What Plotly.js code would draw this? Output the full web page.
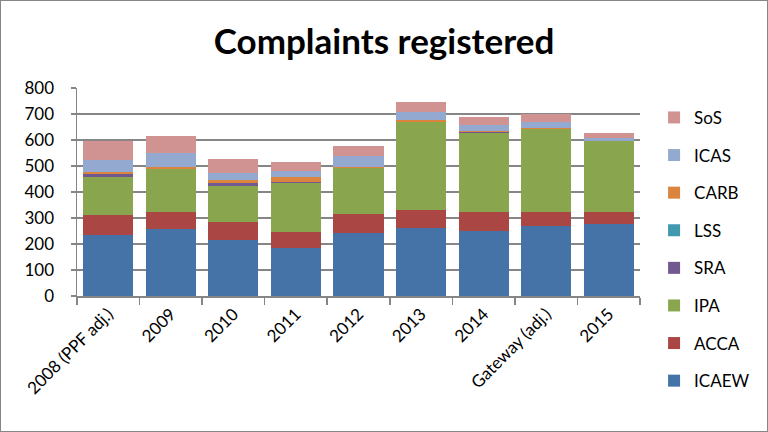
<!DOCTYPE html>
<html><head><meta charset="utf-8">
<script src="https://cdn.plot.ly/plotly-3.0.1.min.js"></script>
<style>html,body{margin:0;padding:0;background:#fff}#c{width:768px;height:432px;box-sizing:border-box;border:1px solid #868686}</style>
</head><body><div id="c"></div>
<script>
const categories = ["2008 (PPF adj.)","2009","2010","2011","2012","2013","2014","Gateway (adj.)","2015"];
const ICAEW = [235,258,215,186,242,263,250,270,278];
const ACCA  = [76,65,70,60,73,68,73,53,45];
const IPA   = [145,164,138,189,179,338,304,319,273];
const SRA   = [12,0,12,5,0,0,5,0,0];
const LSS   = [0,0,0,0,0,0,0,0,0];
const CARB  = [9,8,11,18,2,8,3,5,0];
const ICAS  = [46,54,26,21,42,31,21,22,12];
const SoS   = [73,66,55,36,39,38,32,31,19];
const yTicks = [0,100,200,300,400,500,600,700,800];

const series = [
  ["ICAEW", ICAEW, "#4572A7"],
  ["ACCA", ACCA, "#AA4643"],
  ["IPA", IPA, "#89A54E"],
  ["SRA", SRA, "#71588F"],
  ["LSS", LSS, "#4198AF"],
  ["CARB", CARB, "#DB843D"],
  ["ICAS", ICAS, "#93A9CF"],
  ["SoS", SoS, "#D19392"]
];
const font = "Lato, 'Open Sans', sans-serif";
const traces = series.map((s, i) => ({
  type: "bar", name: s[0], x: categories, y: s[1],
  marker: {color: s[2]}, legendgroup: s[0], legendrank: 1000 - i * 10, hoverinfo: "skip"
}));
const layout = {
  width: 766, height: 430,
  margin: {l: 76, r: 127, t: 87, b: 135, autoexpand: false},
  paper_bgcolor: "#fff", plot_bgcolor: "#fff",
  barmode: "stack", bargap: 0.2,
  title: {text: "<b>Complaints registered</b>", font: {family: font, size: 35, color: "#000"}, x: 0.5, xanchor: "center", y: 0.905, yanchor: "middle"},
  font: {family: font, size: 16, color: "#000"},
  xaxis: {type: "category", automargin: false, tickangle: -45, ticks: "outside", tickson: "boundaries", ticklen: 7, tickcolor: "#868686", tickwidth: 1.5,
          showline: true, linecolor: "#868686", linewidth: 1.5, showgrid: false, tickfont: {size: 17, family: font}},
  yaxis: {range: [0, 800], automargin: false, tickvals: yTicks, ticktext: yTicks.map(v => v + "\u00a0\u00a0\u00a0"), ticks: "outside", ticklen: 5, tickcolor: "#868686", tickwidth: 1.5,
          showline: true, linecolor: "#868686", linewidth: 1.5, gridcolor: "#868686", gridwidth: 1.5, zeroline: false, tickfont: {size: 17, family: font}},
  legend: {x: 1.025, xanchor: "left", yref: "container", y: 0.77, yanchor: "top", traceorder: "grouped", tracegroupgap: 12.5,
           maxheight: 1, font: {size: 17, family: font}, itemwidth: 30}
};
Plotly.newPlot("c", traces, layout, {displayModeBar: false, staticPlot: true});
</script></body></html>
